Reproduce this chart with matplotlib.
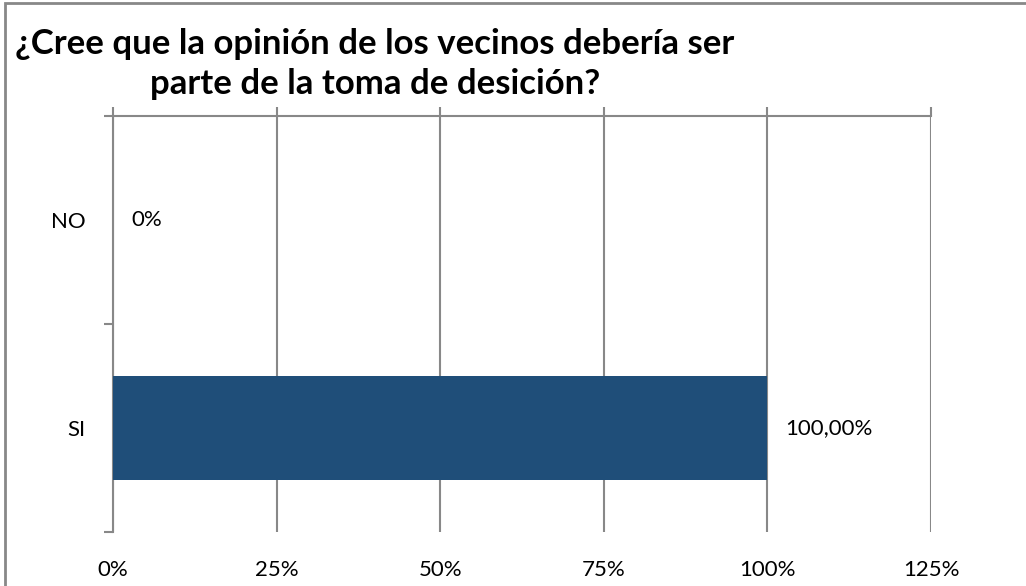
import matplotlib
matplotlib.use('Agg')
import matplotlib.pyplot as plt
from matplotlib.patches import Rectangle

# Data
categories = ['SI', 'NO']
values = [100, 0]
value_labels = ['100,00%', '0%']
x_ticks = [0, 25, 50, 75, 100, 125]
x_tick_labels = ['0%', '25%', '50%', '75%', '100%', '125%']
title = '¿Cree que la opinión de los vecinos debería ser\nparte de la toma de desición?'

plt.rcParams['font.family'] = ['Lato', 'DejaVu Sans']
grey = '#888888'
bar_color = '#1F4E79'

fig = plt.figure(figsize=(10.26, 5.86), dpi=100)
ax = fig.add_axes([113 / 1026, 1 - 532 / 586, (931 - 113) / 1026, (532 - 116) / 586])

y = list(range(len(categories)))
ax.barh(y, values, height=0.5, color=bar_color, zorder=3)

for yi, v, lab in zip(y, values, value_labels):
    ax.annotate(lab, (v, yi), xytext=(13, 0), textcoords='offset points',
                va='center', ha='left', fontsize=16)

ax.set_xlim(0, 125)
ax.set_ylim(-0.5, 1.5)
ax.set_xticks(x_ticks)
ax.set_xticklabels(x_tick_labels, fontsize=16)
ax.set_yticks(y)
ax.set_yticklabels(categories, fontsize=16)
ax.set_yticks([-0.5, 0.5, 1.5], minor=True)

ax.tick_params(axis='x', bottom=False, top=True, labelbottom=True, labeltop=False,
               direction='out', length=6.5, width=1.5, color=grey, pad=14)
ax.tick_params(axis='y', which='major', left=False, pad=16)
ax.tick_params(axis='y', which='minor', left=True, direction='out', length=6.5,
               width=1.5, color=grey)

ax.grid(axis='x', color=grey, linewidth=1.5, zorder=0)
for side in ['bottom', 'right']:
    ax.spines[side].set_visible(False)
for side in ['top', 'left']:
    ax.spines[side].set_color(grey)
    ax.spines[side].set_linewidth(1.5)

fig.text(375 / 1026, 1 - 64 / 586, title, ha='center', va='center',
         fontsize=25, fontweight='bold', linespacing=1.3)

# outer chart border
fig.add_artist(Rectangle((5 / 1026, -0.1), 1.2, 1.1 - 3 / 586, transform=fig.transFigure,
                         fill=False, edgecolor=grey, linewidth=2))

fig.savefig('out.png', dpi=100)
